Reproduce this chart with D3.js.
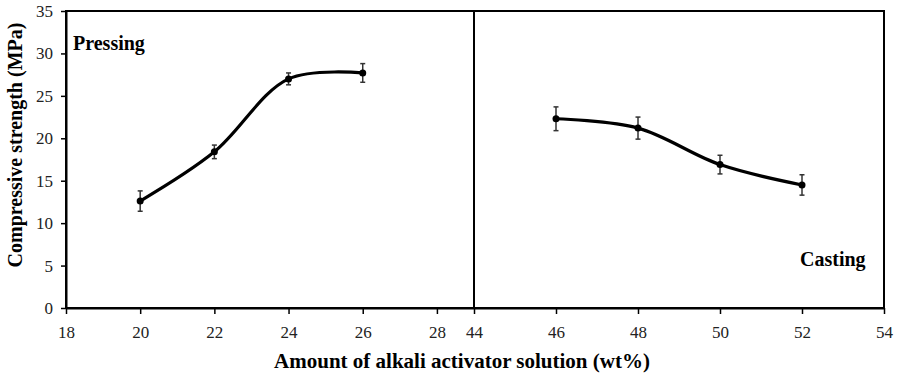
<!DOCTYPE html>
<html>
<head>
<meta charset="utf-8">
<script src="https://cdn.jsdelivr.net/npm/d3@7"></script>
<style>
  body { margin: 0; background: #fff; }
</style>
</head>
<body>
<div id="chart"></div>
<script>
// pressing series
const pressX = [20, 22, 24, 26];
const pressY = [12.6, 18.4, 27.0, 27.7];
const pressErr = [1.2, 0.8, 0.7, 1.1];

// casting series
const castX = [46, 48, 50, 52];
const castY = [22.3, 21.2, 16.9, 14.5];
const castErr = [1.4, 1.3, 1.1, 1.2];

const leftTicks = [18, 20, 22, 24, 26, 28];
const rightTicks = [44, 46, 48, 50, 52, 54];
const yTicks = [0, 5, 10, 15, 20, 25, 30, 35];

const serif = "'Liberation Serif'";
const width = 897, height = 377;
const plotLeft = 66, plotMid = 474, plotRight = 884, plotTop = 11, plotBottom = 308;

const svg = d3.select("#chart").append("svg")
    .attr("width", width)
    .attr("height", height);

const xL = d3.scaleLinear().domain([18, 29]).range([plotLeft, plotMid]);
const xR = d3.scaleLinear().domain([44, 54]).range([plotMid, plotRight]);
const y = d3.scaleLinear().domain([0, 35]).range([plotBottom, plotTop]);

// frame
svg.append("rect")
    .attr("x", plotLeft).attr("y", plotTop)
    .attr("width", plotRight - plotLeft).attr("height", plotBottom - plotTop)
    .attr("fill", "none").attr("stroke", "#000").attr("stroke-width", 2);

svg.append("line")
    .attr("x1", plotMid).attr("x2", plotMid)
    .attr("y1", plotTop).attr("y2", plotBottom)
    .attr("stroke", "#000").attr("stroke-width", 2);

// axes
function styleAxis(g) {
    g.select(".domain").attr("stroke-width", 2);
    g.selectAll(".tick line").attr("stroke-width", 1.5);
    g.selectAll(".tick text")
        .style("font-family", serif)
        .style("font-size", "17px")
        .attr("fill", "#222");
}

svg.append("g")
    .attr("transform", `translate(${plotLeft},0)`)
    .call(d3.axisLeft(y).tickValues(yTicks).tickSize(5).tickPadding(8).tickSizeOuter(0))
    .call(styleAxis);

svg.append("g")
    .attr("transform", `translate(0,${plotBottom})`)
    .call(d3.axisBottom(xL).tickValues(leftTicks).tickSize(6).tickPadding(12).tickSizeOuter(0))
    .call(styleAxis);

svg.append("g")
    .attr("transform", `translate(0,${plotBottom})`)
    .call(d3.axisBottom(xR).tickValues(rightTicks).tickSize(6).tickPadding(12).tickSizeOuter(0))
    .call(styleAxis);

// series
function drawSeries(xs, ys, errs, xScale) {
    const pts = xs.map((d, i) => ({ x: d, y: ys[i], e: errs[i] }));
    const line = d3.line()
        .x(d => xScale(d.x))
        .y(d => y(d.y))
        .curve(d3.curveCatmullRom.alpha(0.5));

    svg.append("path")
        .datum(pts)
        .attr("d", line)
        .attr("fill", "none")
        .attr("stroke", "#000")
        .attr("stroke-width", 3.2);

    const eb = svg.append("g").attr("stroke", "#333").attr("stroke-width", 1.5);
    eb.selectAll(".v").data(pts).join("line")
        .attr("x1", d => xScale(d.x)).attr("x2", d => xScale(d.x))
        .attr("y1", d => y(d.y - d.e)).attr("y2", d => y(d.y + d.e));
    eb.selectAll(".t").data(pts).join("line")
        .attr("x1", d => xScale(d.x) - 2.5).attr("x2", d => xScale(d.x) + 2.5)
        .attr("y1", d => y(d.y + d.e)).attr("y2", d => y(d.y + d.e));
    eb.selectAll(".b").data(pts).join("line")
        .attr("x1", d => xScale(d.x) - 2.5).attr("x2", d => xScale(d.x) + 2.5)
        .attr("y1", d => y(d.y - d.e)).attr("y2", d => y(d.y - d.e));

    svg.append("g").selectAll("circle").data(pts).join("circle")
        .attr("cx", d => xScale(d.x))
        .attr("cy", d => y(d.y))
        .attr("r", 3.5)
        .attr("fill", "#000");
}

drawSeries(pressX, pressY, pressErr, xL);
drawSeries(castX, castY, castErr, xR);

// panel labels
function label(text, x, yPos, size, anchor) {
    return svg.append("text")
        .attr("x", x).attr("y", yPos)
        .attr("text-anchor", anchor || "start")
        .style("font-family", serif)
        .style("font-size", size + "px")
        .style("font-weight", "bold")
        .text(text);
}

label("Pressing", 73, 50, 20);
label("Casting", 800, 266, 20);

// axis titles
label("Compressive strength (MPa)", 0, 0, 20, "middle")
    .attr("transform", "translate(22,145) rotate(-90)");

label("Amount of alkali activator solution (wt%)", 462, 368, 21, "middle");
</script>
</body>
</html>
